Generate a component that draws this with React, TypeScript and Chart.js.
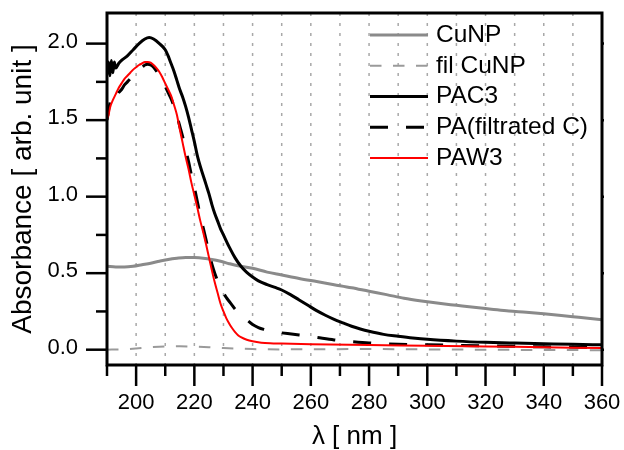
import React, { useEffect, useRef } from 'react';
import { Chart, registerables } from 'chart.js';

Chart.register(...registerables);

const FONT = "'Liberation Sans', Arial, sans-serif";

// ---- data ----
const seriesLabels = ['CuNP', 'fil CuNP', 'PAC3', 'PA(filtrated C)', 'PAW3'];

const cunpX = [190, 193, 196, 199, 202, 205, 208, 211, 214, 217, 220, 223, 226, 229, 232, 235, 240, 245, 250, 256, 262, 268, 274, 280, 286, 292, 298, 304, 310, 316, 322, 328, 334, 340, 346, 352, 360];
const cunpY = [0.545, 0.54, 0.54, 0.545, 0.555, 0.565, 0.578, 0.59, 0.598, 0.603, 0.602, 0.598, 0.59, 0.578, 0.562, 0.548, 0.532, 0.507, 0.488, 0.465, 0.445, 0.425, 0.405, 0.382, 0.36, 0.336, 0.318, 0.303, 0.29, 0.277, 0.265, 0.253, 0.245, 0.235, 0.224, 0.212, 0.196];

const filCunpX = [190, 195, 200, 205, 210, 215, 220, 225, 230, 235, 240, 250, 260, 280, 300, 320, 340, 360];
const filCunpY = [0.0, 0.002, 0.008, 0.016, 0.021, 0.022, 0.02, 0.016, 0.011, 0.007, 0.004, 0.002, 0.003, 0.004, 0.002, 0.0, -0.002, -0.003];

const pac3X = [190, 190.5, 191, 191.5, 192, 192.5, 193, 194, 195, 197, 199, 201, 203, 204.5, 206, 208, 210, 211, 212, 213, 214, 215, 216, 217, 218, 219, 220, 221, 222, 223, 224, 225, 226, 227, 228, 229, 230, 232, 234, 236, 238, 240, 242, 245, 248, 250, 253, 256, 259, 262, 265, 268, 271, 274, 277, 280, 285, 290, 295, 300, 310, 320, 330, 340, 350, 360];
const pac3Y = [1.80, 1.88, 1.79, 1.89, 1.81, 1.88, 1.84, 1.87, 1.89, 1.92, 1.96, 2.00, 2.03, 2.04, 2.03, 2.00, 1.96, 1.92, 1.87, 1.82, 1.76, 1.70, 1.65, 1.59, 1.52, 1.44, 1.36, 1.27, 1.20, 1.14, 1.08, 1.02, 0.95, 0.89, 0.84, 0.79, 0.75, 0.67, 0.60, 0.545, 0.505, 0.475, 0.45, 0.425, 0.405, 0.39, 0.36, 0.325, 0.29, 0.255, 0.225, 0.198, 0.175, 0.153, 0.135, 0.12, 0.10, 0.088, 0.077, 0.068, 0.056, 0.048, 0.043, 0.039, 0.035, 0.032];

const paX = [190, 190.5, 191, 191.5, 192, 193, 194, 195, 196, 197, 198, 199, 200, 201, 202, 203, 204, 205, 206, 207, 208, 209, 210, 211, 212, 213, 214, 215, 216, 217, 218, 219, 220, 221, 222, 223, 224, 225, 226, 227, 228, 229, 230, 231, 232, 233, 234, 235, 236, 238, 240, 242, 244, 247, 250, 256, 262, 268, 274, 280, 290, 300, 320, 340, 360];
const paY = [1.50, 1.56, 1.61, 1.65, 1.63, 1.65, 1.68, 1.70, 1.73, 1.75, 1.77, 1.79, 1.81, 1.83, 1.845, 1.86, 1.865, 1.86, 1.845, 1.82, 1.79, 1.76, 1.72, 1.68, 1.64, 1.59, 1.53, 1.46, 1.39, 1.31, 1.23, 1.14, 1.06, 0.97, 0.88, 0.80, 0.72, 0.635, 0.56, 0.50, 0.45, 0.405, 0.37, 0.34, 0.315, 0.29, 0.265, 0.245, 0.225, 0.195, 0.165, 0.145, 0.132, 0.117, 0.11, 0.096, 0.08, 0.064, 0.053, 0.044, 0.036, 0.032, 0.025, 0.019, 0.015];

const paw3X = [190, 190.5, 191, 192, 193, 194, 195, 196, 197, 198, 199, 200, 201, 202, 203, 204, 205, 206, 207, 208, 209, 210, 211, 212, 213, 214, 215, 216, 217, 218, 219, 220, 221, 222, 223, 224, 225, 226, 227, 228, 229, 230, 231, 232, 233, 234, 235, 236, 238, 240, 243, 246, 250, 260, 280, 300, 320, 340, 360];
const paw3Y = [1.51, 1.53, 1.58, 1.63, 1.67, 1.71, 1.74, 1.77, 1.79, 1.81, 1.83, 1.845, 1.86, 1.87, 1.88, 1.88, 1.875, 1.86, 1.84, 1.815, 1.78, 1.74, 1.70, 1.66, 1.60, 1.535, 1.44, 1.35, 1.26, 1.18, 1.09, 1.01, 0.93, 0.845, 0.77, 0.69, 0.605, 0.52, 0.44, 0.37, 0.30, 0.25, 0.205, 0.17, 0.14, 0.115, 0.095, 0.082, 0.065, 0.055, 0.046, 0.042, 0.04, 0.036, 0.03, 0.026, 0.021, 0.016, 0.011];

// ---- axis ticks ----
const xMajorTicks = [200, 220, 240, 260, 280, 300, 320, 340, 360];
const xMinorTicks = [190, 210, 230, 250, 270, 290, 310, 330, 350];
const xGridValues = [200, 210, 220, 230, 240, 250, 260, 270, 280, 290, 300, 310, 320, 330, 340, 350];
const yMajorTicks = [0, 0.5, 1.0, 1.5, 2.0];
const yMinorTicks = [0.25, 0.75, 1.25, 1.75];

const toPoints = (xs: number[], ys: number[]) => xs.map((x, i) => ({ x, y: ys[i] }));

const originPlugin = {
  id: 'originFrame',
  beforeDatasetsDraw(chart: any) {
    const { ctx, chartArea: a, scales } = chart;
    const x = scales.x;
    ctx.save();
    ctx.strokeStyle = '#a8a8a8';
    ctx.lineWidth = 1.5;
    ctx.setLineDash([3, 7]);
    for (const v of xGridValues) {
      const px = x.getPixelForValue(v);
      ctx.beginPath();
      ctx.moveTo(px, a.top);
      ctx.lineTo(px, a.bottom);
      ctx.stroke();
    }
    ctx.restore();
  },
  afterDatasetsDraw(chart: any) {
    const { ctx, chartArea: a, scales } = chart;
    const x = scales.x;
    const y = scales.y;
    ctx.save();
    ctx.setLineDash([]);
    ctx.strokeStyle = '#000';
    ctx.lineWidth = 2.5;
    ctx.lineCap = 'butt';
    const seg = (x1: number, y1: number, x2: number, y2: number) => {
      ctx.beginPath();
      ctx.moveTo(x1, y1);
      ctx.lineTo(x2, y2);
      ctx.stroke();
    };
    for (const v of xMajorTicks) { const px = x.getPixelForValue(v); seg(px, a.bottom, px, a.bottom + 21); }
    for (const v of xMinorTicks) { const px = x.getPixelForValue(v); seg(px, a.bottom, px, a.bottom + 11); }
    for (const v of yMajorTicks) { const py = y.getPixelForValue(v); seg(a.left, py, a.left - 21, py); seg(a.right, py, a.right + 2, py); }
    for (const v of yMinorTicks) { const py = y.getPixelForValue(v); seg(a.left, py, a.left - 11, py); }
    ctx.lineWidth = 3;
    ctx.lineJoin = 'miter';
    ctx.strokeRect(a.left, a.top, a.right - a.left, a.bottom - a.top);
    ctx.restore();
  },
  afterDraw(chart: any) {
    const { ctx } = chart;
    ctx.save();
    ctx.font = `24.5px ${FONT}`;
    ctx.textBaseline = 'middle';
    ctx.textAlign = 'left';
    chart.data.datasets.forEach((ds: any, i: number) => {
      const cy = 35 + i * 30.75;
      ctx.strokeStyle = ds.borderColor;
      ctx.lineWidth = ds.borderWidth;
      ctx.setLineDash(ds.borderDash || []);
      ctx.beginPath();
      ctx.moveTo(370, cy);
      ctx.lineTo(428, cy);
      ctx.stroke();
      ctx.setLineDash([]);
      ctx.fillStyle = '#000';
      ctx.fillText(ds.label, 436, cy);
    });
    ctx.restore();
  },
};

export default function App() {
  const ref = useRef<HTMLCanvasElement>(null);
  useEffect(() => {
    document.body.style.margin = '0';
    Chart.defaults.font.family = FONT;
    Chart.defaults.color = '#000';
    const chart = new Chart(ref.current as HTMLCanvasElement, {
      type: 'line',
      data: {
        datasets: [
          { label: seriesLabels[0], data: toPoints(cunpX, cunpY), borderColor: '#8a8a8a', borderWidth: 3, order: 5 },
          { label: seriesLabels[1], data: toPoints(filCunpX, filCunpY), borderColor: '#9a9a9a', borderWidth: 2, borderDash: [11.5, 11.5], order: 4 },
          { label: seriesLabels[2], data: toPoints(pac3X, pac3Y), borderColor: '#000000', borderWidth: 3, order: 3 },
          { label: seriesLabels[3], data: toPoints(paX, paY), borderColor: '#000000', borderWidth: 3, borderDash: [18, 18], order: 2 },
          { label: seriesLabels[4], data: toPoints(paw3X, paw3Y), borderColor: '#ff0000', borderWidth: 2, order: 1 },
        ] as any,
      },
      options: {
        animation: false,
        responsive: false,
        elements: { point: { radius: 0 }, line: { cubicInterpolationMode: 'monotone', fill: false } },
        layout: { padding: { top: 13, right: 22, left: 0, bottom: 0 } },
        plugins: { legend: { display: false }, tooltip: { enabled: false } },
        scales: {
          x: {
            type: 'linear',
            min: 190,
            max: 360,
            grid: { display: false, drawTicks: false },
            border: { display: false },
            ticks: {
              stepSize: 10,
              autoSkip: false,
              maxRotation: 0,
              padding: 25,
              color: '#000',
              font: { size: 22, family: FONT },
              callback: (v: any) => {
                const n = Math.round(Number(v));
                return n % 20 === 0 ? String(n) : '';
              },
            },
            title: { display: true, text: 'λ [ nm ]', color: '#000', font: { size: 26, family: FONT, lineHeight: 1 }, padding: 0 },
            afterFit: (s: any) => { s.height = 85; s.paddingLeft = 0; s.paddingRight = 0; },
          },
          y: {
            type: 'linear',
            min: -0.1,
            max: 2.2,
            grid: { display: false, drawTicks: false },
            border: { display: false },
            ticks: {
              stepSize: 0.5,
              includeBounds: false,
              padding: 29,
              labelOffset: -2,
              color: '#000',
              font: { size: 22, family: FONT, lineHeight: 1 },
              callback: (v: any) => Number(v).toFixed(1),
            },
            title: { display: true, text: 'Absorbance [ arb. unit ]', color: '#000', font: { size: 28, family: FONT, lineHeight: 1 }, padding: { top: 9, bottom: 0 } },
            afterFit: (s: any) => { s.width = 107; s.paddingTop = 0; s.paddingBottom = 0; },
          },
        },
      } as any,
      plugins: [originPlugin],
    });
    return () => chart.destroy();
  }, []);
  return (
    <div style={{ width: 624, height: 450 }}>
      <canvas ref={ref} width={624} height={450} style={{ display: 'block' }} />
    </div>
  );
}
